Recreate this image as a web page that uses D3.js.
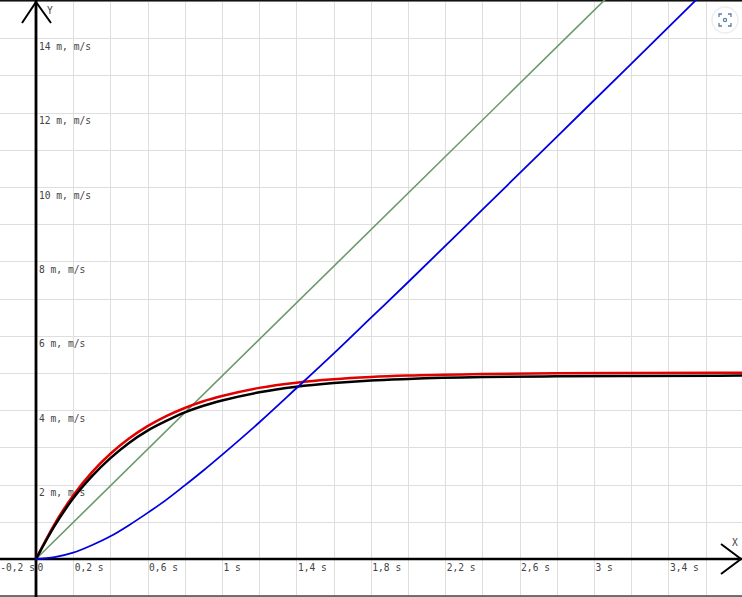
<!DOCTYPE html>
<html>
<head>
<meta charset="utf-8">
<title>v(t), s(t)</title>
<style>
body { margin: 0; background: #fff; }
#chart { display: block; }
.tick-label { font-family: "DejaVu Sans Mono", monospace; font-size: 9.6px; fill: #444; }
.grid line { stroke: #dedede; stroke-width: 1; shape-rendering: crispEdges; }
</style>
</head>
<body>
<svg id="chart" width="742" height="597"></svg>
<script src="https://d3js.org/d3.v7.min.js"></script>
<script>
const W = 742, H = 597;

// tick labels
const xLabelTicks = [-0.2, 0, 0.2, 0.6, 1, 1.4, 1.8, 2.2, 2.6, 3, 3.4];
const yLabelTicks = [2, 4, 6, 8, 10, 12, 14];

// sample times (s)
const tCurve = [0, 0.1, 0.2, 0.3, 0.4, 0.5, 0.6, 0.7, 0.8, 0.9, 1.0, 1.2, 1.4, 1.6, 1.8, 2.0, 2.4, 2.8, 3.2, 3.8];
// red curve (m/s)
const redV   = [0, 0.94, 1.71, 2.33, 2.83, 3.24, 3.57, 3.84, 4.06, 4.24, 4.38, 4.60, 4.74, 4.83, 4.89, 4.93, 4.97, 4.99, 5.00, 5.01];
// black curve (m/s)
const blackV = [0, 0.89, 1.63, 2.22, 2.71, 3.12, 3.45, 3.71, 3.94, 4.12, 4.26, 4.48, 4.63, 4.73, 4.80, 4.84, 4.89, 4.91, 4.92, 4.93];

// blue curve (m)
const tBlue = [0, 0.1, 0.2, 0.3, 0.4, 0.5, 0.6, 0.7, 0.8, 0.9, 1.0, 1.2, 1.4, 1.6, 1.8, 2.0, 2.4, 2.8, 3.2, 3.6];
const blueS = [0, 0.05, 0.17, 0.37, 0.61, 0.91, 1.24, 1.59, 1.98, 2.38, 2.80, 3.67, 4.59, 5.52, 6.48, 7.44, 9.39, 11.35, 13.31, 15.28];

// green straight line
const tGreen = [0, 3.2];
const greenV = [0, 15.73];

const x = d3.scaleLinear().domain([-0.2, 3.8]).range([-1.2, 742.8]);
const y = d3.scaleLinear().domain([-1, 15]).range([596.2, 1]);

const svg = d3.select("#chart");

svg.append("defs").append("clipPath").attr("id", "clip")
  .append("rect").attr("x", 0).attr("y", 0).attr("width", W).attr("height", H);

// grid
const grid = svg.append("g").attr("class", "grid");
grid.selectAll(".gx")
  .data(d3.range(-1, 20).map(i => i * 0.2))
  .join("line")
  .attr("x1", d => Math.round(x(d)) + 0.5).attr("x2", d => Math.round(x(d)) + 0.5)
  .attr("y1", 0).attr("y2", H);
grid.selectAll(".gy")
  .data(d3.range(-1, 16))
  .join("line")
  .attr("x1", 0).attr("x2", W)
  .attr("y1", d => Math.round(y(d)) + 0.5).attr("y2", d => Math.round(y(d)) + 0.5);

// frame top / bottom
svg.append("line").attr("x1", 0).attr("x2", W).attr("y1", 0.75).attr("y2", 0.75)
  .attr("stroke", "#111").attr("stroke-width", 1.5);
svg.append("line").attr("x1", 0).attr("x2", W).attr("y1", 596).attr("y2", 596)
  .attr("stroke", "#444").attr("stroke-width", 1.5);

// axes
const axisG = svg.append("g").attr("stroke", "#000").attr("fill", "none");
axisG.append("line").attr("x1", x(0)).attr("x2", x(0)).attr("y1", 0).attr("y2", H).attr("stroke-width", 2.8);
axisG.append("line").attr("x1", 0).attr("x2", W).attr("y1", y(0)).attr("y2", y(0)).attr("stroke-width", 2.6);
axisG.append("path").attr("stroke-width", 2)
  .attr("d", `M${x(0) - 14},23L${x(0)},2L${x(0) + 15},23`);
axisG.append("path").attr("stroke-width", 2)
  .attr("d", `M721,${y(0) - 15}L741,${y(0)}L721,${y(0) + 15}`);

svg.append("text").attr("class", "tick-label").attr("x", 47).attr("y", 14).text("Y");
svg.append("text").attr("class", "tick-label").attr("x", 732).attr("y", 546).text("X");

// tick labels
const fmt = v => v === 0 ? "0" : String(+v.toFixed(1)).replace(".", ",") + " s";
svg.selectAll(".xl")
  .data(xLabelTicks)
  .join("text")
  .attr("class", "tick-label")
  .attr("x", d => Math.max(0, x(d) + 1.5))
  .attr("y", y(0) + 11.5)
  .text(fmt);

svg.selectAll(".yl")
  .data(yLabelTicks)
  .join("text")
  .attr("class", "tick-label")
  .attr("x", x(0) + 3)
  .attr("y", d => y(d) + 11.5)
  .text(d => d + " m, m/s");

// curves
const line = d3.line().x(d => x(d[0])).y(d => y(d[1])).curve(d3.curveMonotoneX);
const plot = svg.append("g").attr("clip-path", "url(#clip)").attr("fill", "none")
  .attr("stroke-linejoin", "round").attr("stroke-linecap", "round");

plot.append("path").datum(d3.zip(tGreen, greenV)).attr("d", line)
  .attr("stroke", "#6b9a6b").attr("stroke-width", 1.6);
plot.append("path").datum(d3.zip(tCurve, redV)).attr("d", line)
  .attr("stroke", "#e00000").attr("stroke-width", 2.5);
plot.append("path").datum(d3.zip(tCurve, blackV)).attr("d", line)
  .attr("stroke", "#000").attr("stroke-width", 2.5);
plot.append("path").datum(d3.zip(tBlue, blueS)).attr("d", line)
  .attr("stroke", "#0000e0").attr("stroke-width", 1.8);

// focus button (top right)
const btn = svg.append("g").attr("transform", "translate(725,20)");
btn.append("circle").attr("r", 13).attr("fill", "#fff")
  .attr("stroke", "#eee").attr("stroke-width", 1.5);
btn.append("path").attr("fill", "none").attr("stroke", "#5b7fa6").attr("stroke-width", 1.3)
  .attr("d", "M-6,-3V-6H-3M3,-6H6V-3M6,3V6H3M-3,6H-6V3");
btn.append("circle").attr("r", 1.6).attr("fill", "none").attr("stroke", "#5b7fa6").attr("stroke-width", 1.2);
</script>
</body>
</html>
